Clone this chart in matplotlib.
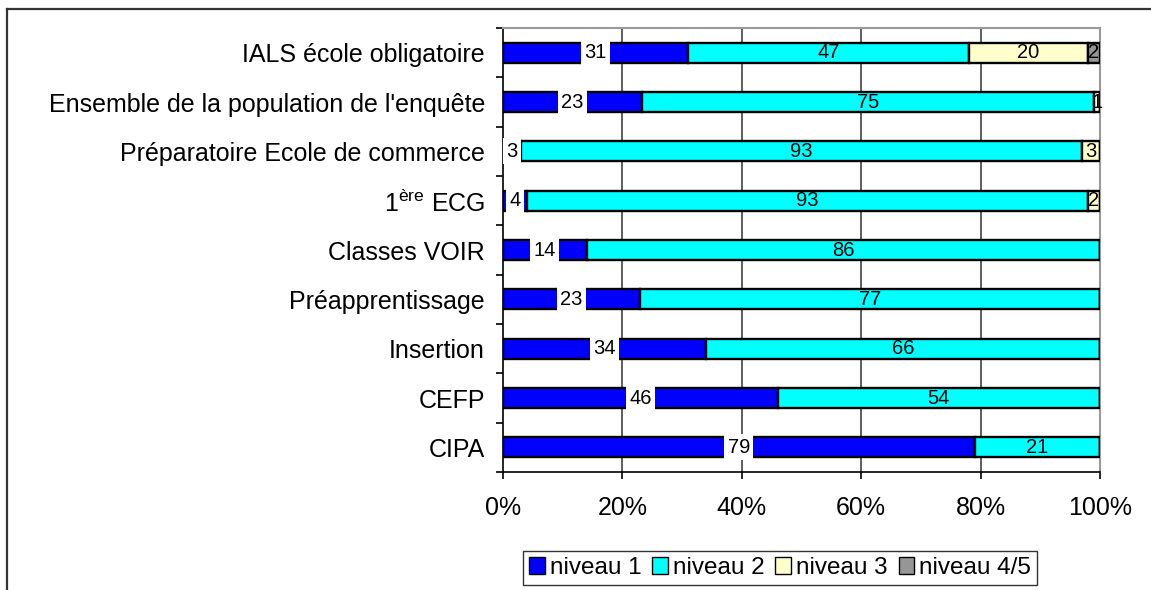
import matplotlib
matplotlib.use("Agg")
import matplotlib.pyplot as plt
from matplotlib import font_manager
from matplotlib.lines import Line2D
from matplotlib.patches import Patch
import numpy as np

categories = ["IALS école obligatoire",
              "Ensemble de la population de l'enquête",
              "Préparatoire Ecole de commerce",
              "1$^{\\mathrm{ère}}$ ECG",
              "Classes VOIR",
              "Préapprentissage",
              "Insertion",
              "CEFP",
              "CIPA"]
niveau1 = [31, 23, 3, 4, 14, 23, 34, 46, 79]
niveau2 = [47, 75, 93, 93, 86, 77, 66, 54, 21]
niveau3 = [20, 1, 3, 2, 0, 0, 0, 0, 0]
niveau45 = [2, 0, 0, 0, 0, 0, 0, 0, 0]
series_names = ["niveau 1", "niveau 2", "niveau 3", "niveau 4/5"]
colors = ["#0000FF", "#00FFFF", "#FFFFCC", "#969696"]
xticks = [0, 20, 40, 60, 80, 100]
xticklabels = ["0%", "20%", "40%", "60%", "80%", "100%"]

available = {f.name for f in font_manager.fontManager.ttflist}
base_font = "Liberation Sans" if "Liberation Sans" in available else "DejaVu Sans"
narrow_font = "Liberation Sans Narrow" if "Liberation Sans Narrow" in available else base_font

plt.rcParams["font.family"] = [base_font, "DejaVu Sans"]
plt.rcParams["mathtext.fontset"] = "custom"
plt.rcParams["mathtext.rm"] = base_font
plt.rcParams["mathtext.it"] = base_font + ":italic"
plt.rcParams["mathtext.bf"] = base_font + ":bold"

fig = plt.figure(figsize=(11.51, 5.90), dpi=100)
W, H = 1151, 590
ax = fig.add_axes([503 / W, 1 - 472 / H, (1100 - 503) / W, (472 - 28) / H])

data = np.array([niveau1, niveau2, niveau3, niveau45], dtype=float)
totals = data.sum(axis=0)
pct = data / totals * 100
n = len(categories)
y = np.arange(n)[::-1]

left = np.zeros(n)
for i in range(4):
    ax.barh(y, pct[i], left=left, height=0.41, color=colors[i],
            edgecolor="black", linewidth=1.7, zorder=3)
    for j in range(n):
        v = data[i][j]
        if v > 0:
            cx = left[j] + pct[i][j] / 2
            kw = {}
            if i == 0:
                kw["bbox"] = dict(boxstyle="square,pad=0.17", fc="white", ec="none")
            ax.text(cx, y[j], f"{int(v)}", ha="center", va="center",
                    fontsize=14.5, family=[narrow_font, "DejaVu Sans"],
                    zorder=5, **kw)
    left = left + pct[i]

ax.set_xlim(0, 100)
ax.set_ylim(-0.5, n - 0.5)
ax.set_xticks(xticks)
ax.set_xticklabels(xticklabels, fontsize=18)
ax.set_yticks(y)
ax.set_yticklabels(categories, fontsize=18)
ax.set_yticks(np.arange(-0.5, n, 1.0), minor=True)
ax.tick_params(axis="y", which="major", length=0, pad=13)
ax.tick_params(axis="y", which="minor", length=5, width=1.2, direction="out", color="black")
ax.tick_params(axis="x", which="major", length=5, width=1.2, direction="out", pad=12, color="black")

for xv in [20, 40, 60, 80]:
    ax.axvline(xv, color="#333333", linewidth=1.1, zorder=1)

for s in ["top", "right"]:
    ax.spines[s].set_color("#999999")
    ax.spines[s].set_linewidth(1.5)
for s in ["left", "bottom"]:
    ax.spines[s].set_color("black")
    ax.spines[s].set_linewidth(1.2)

# outer chart frame
fig.add_artist(Line2D([7.5 / W, 7.5 / W], [0, 1 - 9 / H], color="#333333", linewidth=1.6))
fig.add_artist(Line2D([7.5 / W, 1], [1 - 9 / H, 1 - 9 / H], color="#333333", linewidth=1.6))

handles = [Patch(facecolor=c, edgecolor="black", linewidth=1.0) for c in colors]
leg = fig.legend(handles, series_names, loc="center", ncol=4,
                 bbox_to_anchor=(780 / W, 1 - 568 / H), fontsize=17.5,
                 handlelength=0.65, handleheight=0.65, handletextpad=0.2,
                 columnspacing=0.45, borderpad=0.25, fancybox=False,
                 frameon=True, edgecolor="black", borderaxespad=0)
leg.get_frame().set_linewidth(1.0)

fig.savefig("out.png", dpi=100)
